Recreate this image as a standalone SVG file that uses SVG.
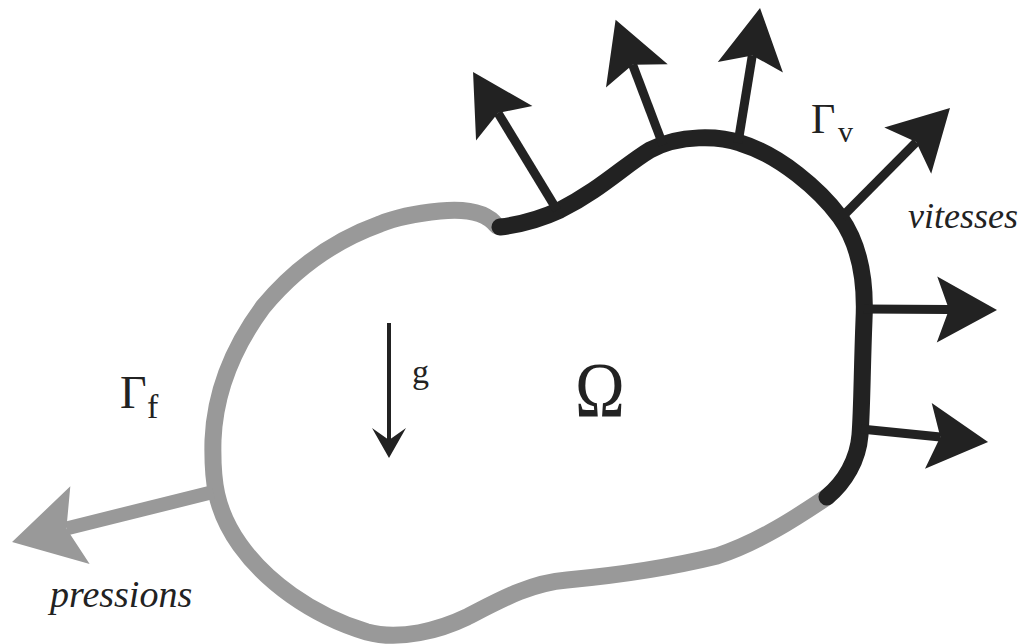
<svg xmlns="http://www.w3.org/2000/svg" width="1023" height="644" viewBox="0 0 1023 644">
<style>
.bnd{fill:none;stroke-width:17;stroke-linecap:round;stroke-linejoin:round}
.blk{stroke:#222}
.gry{stroke:#999}
.shaft{fill:none;stroke:#222;stroke-width:9}
.gshaft{fill:none;stroke:#999;stroke-width:14}
</style>
<defs>
<marker id="ah" markerUnits="userSpaceOnUse" viewBox="0 -35 62 70" markerWidth="62" markerHeight="70" refX="12" refY="0" orient="auto" overflow="visible">
<path d="M60,0 L0,-33 L12,0 L0,33 Z" fill="#222"/>
</marker>
<marker id="gah" markerUnits="userSpaceOnUse" viewBox="0 -42 72 84" markerWidth="72" markerHeight="84" refX="14" refY="0" orient="auto" overflow="visible">
<path d="M70,0 L0,-40 L14,0 L0,40 Z" fill="#999"/>
</marker>
</defs>
<g id="domain">
<path class="bnd gry" d="M497,226 C485,210 460,209 440,211 C410,214 392,219 380,224 C330,242 292,272 263,307 C235,345 215,390 213,440 C212,480 215,510 240,545 C265,580 310,615 367,632 C400,641 440,630 467,617 C500,600 530,583 567,580 C610,576 660,570 717,556 C760,542 800,515 827,497"/>
<path class="bnd blk" d="M500,227 C525,224 545,217 560,210 C600,190 625,165 650,150 C680,134 720,136 740,143 C780,155 820,190 840,217 C860,245 866,280 864,320 C862,370 862,410 860,435 C858,460 845,482 827,497"/>
</g>
<g id="connectors">
<line class="shaft" x1="557" y1="210" x2="498" y2="113" marker-end="url(#ah)"/>
<line class="shaft" x1="663" y1="145" x2="632.6" y2="64.7" marker-end="url(#ah)"/>
<line class="shaft" x1="738" y1="143" x2="752.3" y2="55.4" marker-end="url(#ah)"/>
<line class="shaft" x1="842" y1="217" x2="916.2" y2="142.1" marker-end="url(#ah)"/>
<line class="shaft" x1="864" y1="309" x2="949" y2="309.6" marker-end="url(#ah)"/>
<line class="shaft" x1="861" y1="429" x2="940.3" y2="437.1" marker-end="url(#ah)"/>
<line class="gshaft" x1="213" y1="492" x2="66.4" y2="528.5" marker-end="url(#gah)"/>
</g>
<g id="gravity">
<line x1="389" y1="323" x2="389" y2="442" stroke="#222" stroke-width="4"/>
<path d="M389,458 L372,428 L389,440 L406,428 Z" fill="#222"/>
<text font-family="Liberation Serif, DejaVu Serif, serif" fill="#222" x="412" y="383" font-size="34">g</text>
</g>
<g id="omega">
<text font-family="Liberation Serif, DejaVu Serif, serif" fill="#222" transform="translate(600,416) scale(0.86,1)" text-anchor="middle" font-size="78">Ω</text>
</g>
<g id="gamma-f">
<text font-family="Liberation Serif, DejaVu Serif, serif" fill="#222" x="120" y="408" font-size="46">Γ</text>
<text font-family="Liberation Serif, DejaVu Serif, serif" fill="#222" x="147" y="418" font-size="34">f</text>
</g>
<g id="gamma-v">
<text font-family="Liberation Serif, DejaVu Serif, serif" fill="#222" x="811" y="133" font-size="42">Γ</text>
<text font-family="Liberation Serif, DejaVu Serif, serif" fill="#222" x="838" y="142" font-size="30">v</text>
</g>
<g id="labels">
<text font-family="Liberation Serif, DejaVu Serif, serif" font-style="italic" fill="#222" x="908" y="228" font-size="36">vitesses</text>
<text font-family="Liberation Serif, DejaVu Serif, serif" font-style="italic" fill="#222" x="50" y="607" font-size="38">pressions</text>
</g>
</svg>
